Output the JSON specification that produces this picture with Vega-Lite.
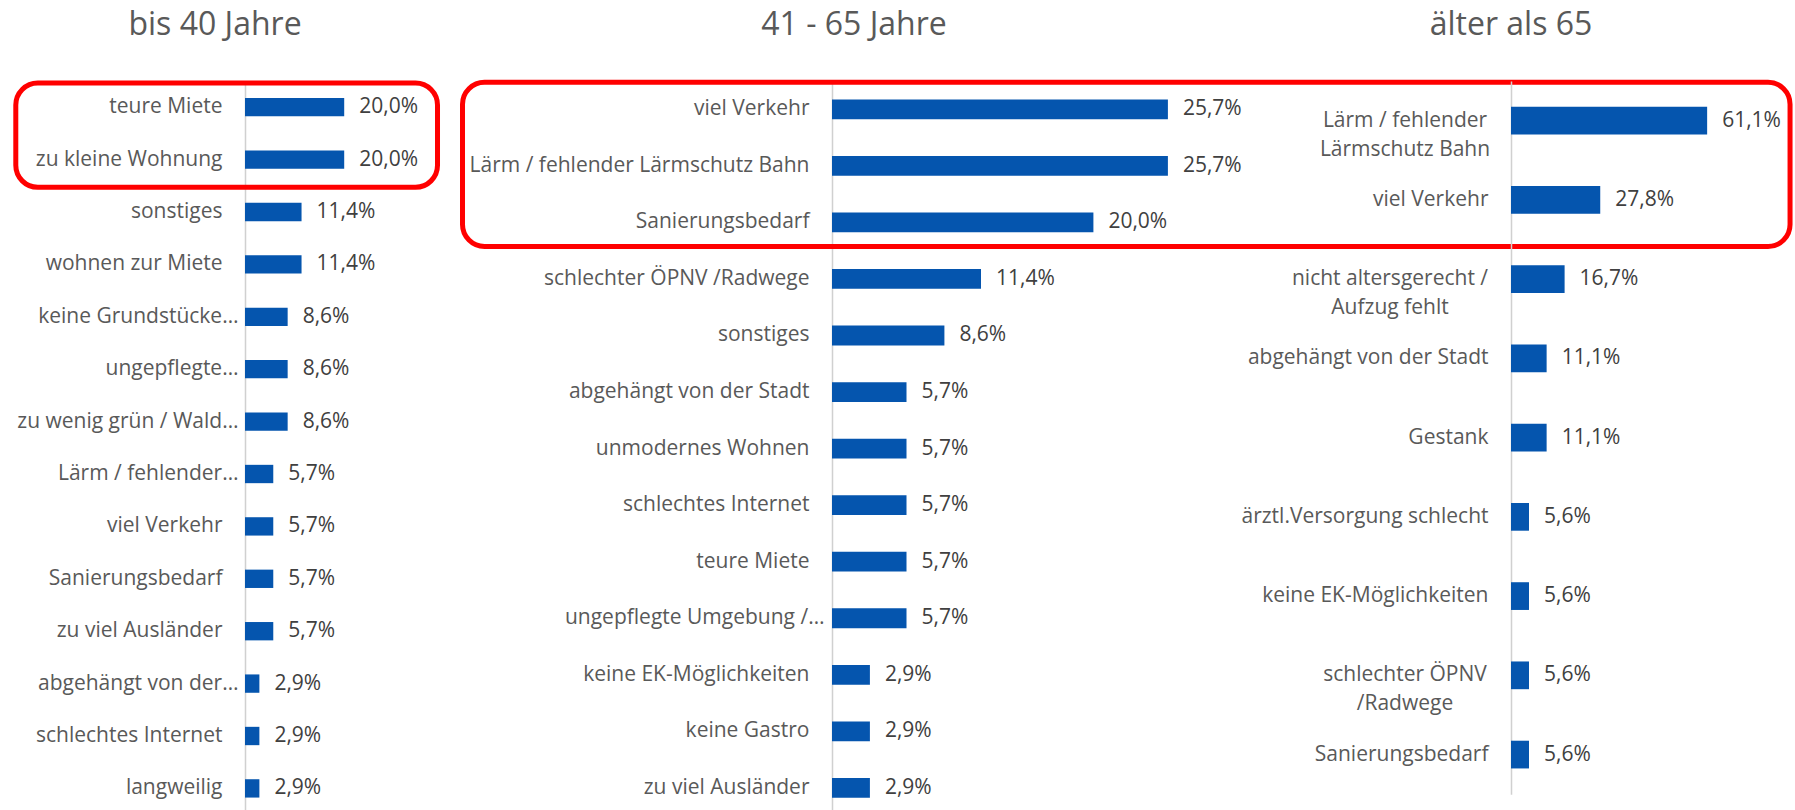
{
  "$schema": "https://vega.github.io/schema/vega-lite/v6.json",
  "padding": {"left": 13, "top": 8, "right": 0, "bottom": 0},
  "bounds": "flush",
  "spacing": 20,
  "config": {
    "view": {"stroke": null},
    "font": "Open Sans",
    "locale": {"number": {"decimal": ",", "thousands": ".", "grouping": [3], "currency": ["", " €"]}},
    "axisY": {
      "title": null,
      "domain": true,
      "domainColor": "#d0d0d0",
      "domainWidth": 1.5,
      "ticks": false,
      "grid": false,
      "labelFont": "Open Sans",
      "labelFontSize": 21,
      "labelColor": "#595959",
      "labelLimit": 400,
      "labelLineHeight": 29
    }
  },
  "datasets": {
    "p1": [
      {"grund": "teure Miete", "anteil": 0.2},
      {"grund": "zu kleine Wohnung", "anteil": 0.2},
      {"grund": "sonstiges", "anteil": 0.114},
      {"grund": "wohnen zur Miete", "anteil": 0.114},
      {"grund": "keine Grundstücke…", "anteil": 0.086},
      {"grund": "ungepflegte…", "anteil": 0.086},
      {"grund": "zu wenig grün / Wald…", "anteil": 0.086},
      {"grund": "Lärm / fehlender…", "anteil": 0.057},
      {"grund": "viel Verkehr", "anteil": 0.057},
      {"grund": "Sanierungsbedarf", "anteil": 0.057},
      {"grund": "zu viel Ausländer", "anteil": 0.057},
      {"grund": "abgehängt von der…", "anteil": 0.029},
      {"grund": "schlechtes Internet", "anteil": 0.029},
      {"grund": "langweilig", "anteil": 0.029}
    ],
    "p2": [
      {"grund": "viel Verkehr", "anteil": 0.257},
      {"grund": "Lärm / fehlender Lärmschutz Bahn", "anteil": 0.257},
      {"grund": "Sanierungsbedarf", "anteil": 0.2},
      {"grund": "schlechter ÖPNV /Radwege", "anteil": 0.114},
      {"grund": "sonstiges", "anteil": 0.086},
      {"grund": "abgehängt von der Stadt", "anteil": 0.057},
      {"grund": "unmodernes Wohnen", "anteil": 0.057},
      {"grund": "schlechtes Internet", "anteil": 0.057},
      {"grund": "teure Miete", "anteil": 0.057},
      {"grund": "ungepflegte Umgebung /…", "anteil": 0.057},
      {"grund": "keine EK-Möglichkeiten", "anteil": 0.029},
      {"grund": "keine Gastro", "anteil": 0.029},
      {"grund": "zu viel Ausländer", "anteil": 0.029}
    ],
    "p3": [
      {"grund": "Lärm / fehlender Lärmschutz Bahn", "anteil": 0.611},
      {"grund": "viel Verkehr", "anteil": 0.278},
      {"grund": "nicht altersgerecht / Aufzug fehlt", "anteil": 0.167},
      {"grund": "abgehängt von der Stadt", "anteil": 0.111},
      {"grund": "Gestank", "anteil": 0.111},
      {"grund": "ärztl.Versorgung schlecht", "anteil": 0.056},
      {"grund": "keine EK-Möglichkeiten", "anteil": 0.056},
      {"grund": "schlechter ÖPNV /Radwege", "anteil": 0.056},
      {"grund": "Sanierungsbedarf", "anteil": 0.056}
    ],
    "box1": [{"von": "teure Miete", "bis": "zu kleine Wohnung", "links": -0.4621, "rechts": 0.3881}],
    "box2": [{"von": "viel Verkehr", "bis": "Sanierungsbedarf", "links": -0.2827, "rechts": 0.733}]
  },
  "hconcat": [
    {
      "width": 567,
      "height": 733.6,
      "title": {"text": "bis 40 Jahre", "anchor": "middle", "frame": "group", "dx": -313.5, "offset": 13.4, "baseline": "alphabetic", "fontSize": 32, "fontWeight": "normal", "color": "#595959", "font": "Open Sans"},
      "data": {"name": "p1"},
      "encoding": {
        "y": {
          "field": "grund", "type": "nominal",
          "scale": {"domain": ["teure Miete", "zu kleine Wohnung", "sonstiges", "wohnen zur Miete", "keine Grundstücke…", "ungepflegte…", "zu wenig grün / Wald…", "Lärm / fehlender…", "viel Verkehr", "Sanierungsbedarf", "zu viel Ausländer", "abgehängt von der…", "schlechtes Internet", "langweilig"], "paddingInner": 0, "paddingOuter": 0},
          "axis": {"labelPadding": {"condition": {"test": "indexof(datum.value, '…') >= 0", "value": 7}, "value": 23}}
        },
        "x": {"field": "anteil", "type": "quantitative", "scale": {"domain": [0, 1.1431], "nice": false, "zero": true}, "axis": null}
      },
      "layer": [
        {"mark": {"type": "bar", "height": {"band": 0.35}, "color": "#0555ae"}},
        {"mark": {"type": "text", "align": "left", "baseline": "middle", "dx": 15, "fontSize": 21, "font": "Open Sans", "color": "#404040"},
         "encoding": {"text": {"field": "anteil", "type": "quantitative", "format": ".1%"}}},
        {"data": {"name": "box1"},
         "mark": {"type": "rect", "fill": "transparent", "stroke": "#ff0000", "strokeWidth": 5, "cornerRadius": 22, "clip": false},
         "encoding": {
           "x": {"field": "links", "type": "quantitative"},
           "x2": {"field": "rechts"},
           "y": {"field": "von", "type": "nominal", "bandPosition": 0.038},
           "y2": {"field": "bis", "bandPosition": 1.029}
         }}
      ]
    },
    {
      "width": 659,
      "height": 735.2,
      "title": {"text": "41 - 65 Jahre", "anchor": "middle", "frame": "group", "dx": -307.5, "offset": 12.9, "baseline": "alphabetic", "fontSize": 32, "fontWeight": "normal", "color": "#595959", "font": "Open Sans"},
      "data": {"name": "p2"},
      "encoding": {
        "y": {
          "field": "grund", "type": "nominal",
          "scale": {"domain": ["viel Verkehr", "Lärm / fehlender Lärmschutz Bahn", "Sanierungsbedarf", "schlechter ÖPNV /Radwege", "sonstiges", "abgehängt von der Stadt", "unmodernes Wohnen", "schlechtes Internet", "teure Miete", "ungepflegte Umgebung /…", "keine EK-Möglichkeiten", "keine Gastro", "zu viel Ausländer"], "paddingInner": 0, "paddingOuter": 0},
          "axis": {"labelPadding": {"condition": {"test": "indexof(datum.value, '…') >= 0", "value": 8}, "value": 23}}
        },
        "x": {"field": "anteil", "type": "quantitative", "scale": {"domain": [0, 0.5042], "nice": false, "zero": true}, "axis": null}
      },
      "layer": [
        {"mark": {"type": "bar", "height": {"band": 0.35}, "color": "#0555ae"}},
        {"mark": {"type": "text", "align": "left", "baseline": "middle", "dx": 15, "fontSize": 21, "font": "Open Sans", "color": "#404040"},
         "encoding": {"text": {"field": "anteil", "type": "quantitative", "format": ".1%"}}},
        {"data": {"name": "box2"},
         "mark": {"type": "rect", "fill": "transparent", "stroke": "#ff0000", "strokeWidth": 5, "cornerRadius": 22, "clip": false},
         "encoding": {
           "x": {"field": "links", "type": "quantitative"},
           "x2": {"field": "rechts"},
           "y": {"field": "von", "type": "nominal", "bandPosition": 0.023},
           "y2": {"field": "bis", "bandPosition": 0.927}
         }}
      ]
    },
    {
      "width": 284,
      "height": 713.2,
      "title": {"text": "älter als 65", "anchor": "middle", "frame": "group", "dx": -142, "offset": 14, "baseline": "alphabetic", "fontSize": 32, "fontWeight": "normal", "color": "#595959", "font": "Open Sans"},
      "data": {"name": "p3"},
      "encoding": {
        "y": {
          "field": "grund", "type": "nominal",
          "scale": {"domain": ["Lärm / fehlender Lärmschutz Bahn", "viel Verkehr", "nicht altersgerecht / Aufzug fehlt", "abgehängt von der Stadt", "Gestank", "ärztl.Versorgung schlecht", "keine EK-Möglichkeiten", "schlechter ÖPNV /Radwege", "Sanierungsbedarf"], "paddingInner": 0, "paddingOuter": 0},
          "axis": {
            "labelAlign": {"condition": {"test": "indexof(['Lärm / fehlender Lärmschutz Bahn', 'nicht altersgerecht / Aufzug fehlt', 'schlechter ÖPNV /Radwege'], datum.value) >= 0", "value": "center"}, "value": "right"},
            "labelPadding": {"condition": [
              {"test": "datum.value == 'nicht altersgerecht / Aufzug fehlt'", "value": 121.5},
              {"test": "datum.value == 'schlechter ÖPNV /Radwege'", "value": 106.5},
              {"test": "datum.value == 'Lärm / fehlender Lärmschutz Bahn'", "value": 106.5}
            ], "value": 23},
            "labelExpr": "datum.value == 'Lärm / fehlender Lärmschutz Bahn' ? ['Lärm / fehlender', 'Lärmschutz Bahn'] : datum.value == 'nicht altersgerecht / Aufzug fehlt' ? ['nicht altersgerecht /', 'Aufzug fehlt'] : datum.value == 'schlechter ÖPNV /Radwege' ? ['schlechter ÖPNV', '/Radwege'] : datum.value"
          }
        },
        "x": {"field": "anteil", "type": "quantitative", "scale": {"domain": [0, 0.8847], "nice": false, "zero": true}, "axis": null}
      },
      "layer": [
        {"mark": {"type": "bar", "height": {"band": 0.35}, "color": "#0555ae"}},
        {"mark": {"type": "text", "align": "left", "baseline": "middle", "dx": 15, "fontSize": 21, "font": "Open Sans", "color": "#404040"},
         "encoding": {"text": {"field": "anteil", "type": "quantitative", "format": ".1%"}}}
      ]
    }
  ]
}
